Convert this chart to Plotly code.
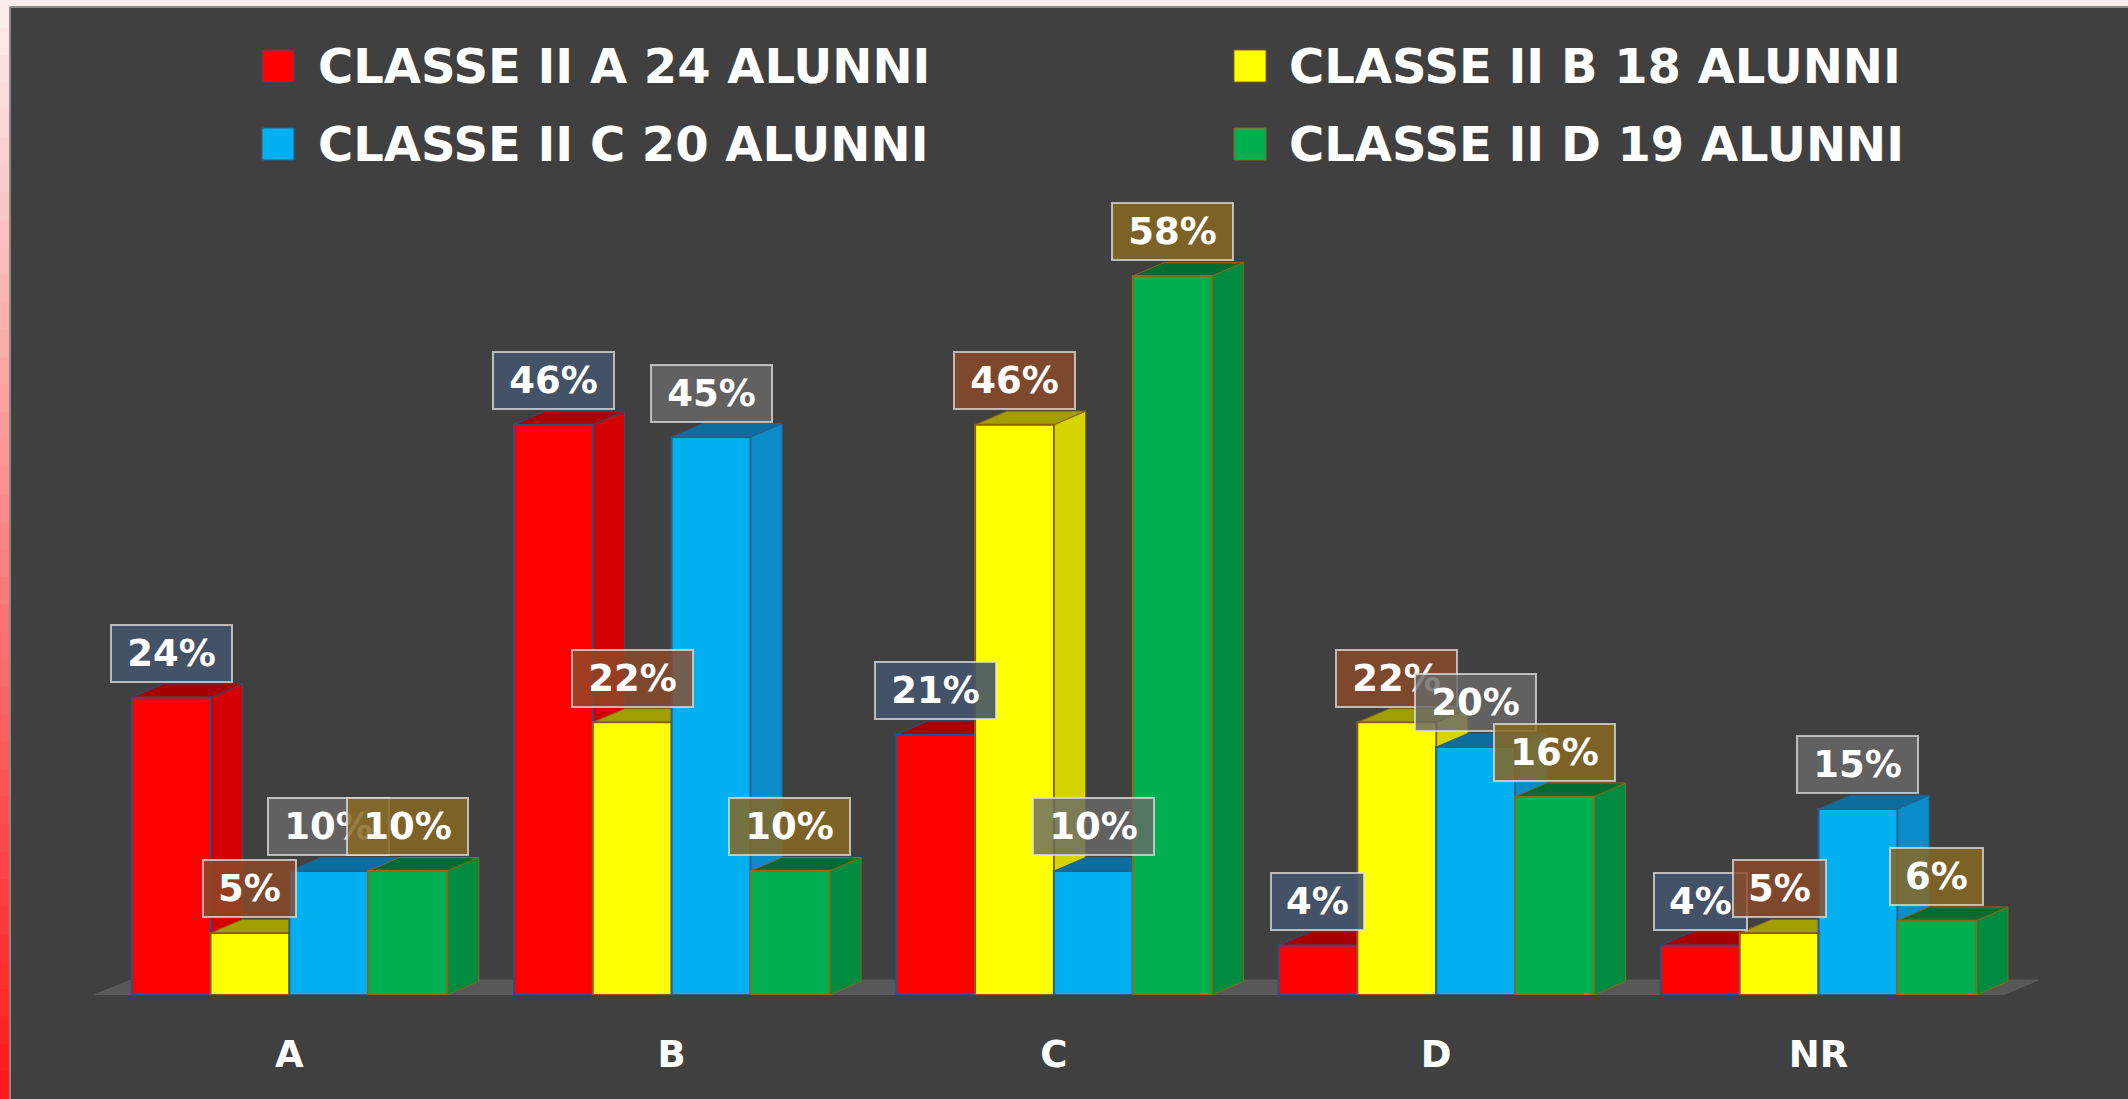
import plotly.graph_objects as go

# ---------------- data ----------------
categories = ["A", "B", "C", "D", "NR"]
series_names = [
    "CLASSE II A 24 ALUNNI",
    "CLASSE II B 18 ALUNNI",
    "CLASSE II C 20 ALUNNI",
    "CLASSE II D 19 ALUNNI",
]
classe_a = [24, 46, 21, 4, 4]
classe_b = [5, 22, 46, 22, 5]
classe_c = [10, 45, 10, 20, 15]
classe_d = [10, 10, 58, 16, 6]
series_values = [classe_a, classe_b, classe_c, classe_d]

# ---------------- style ----------------
front_colors = ["#FF0000", "#FFFF00", "#00B0F0", "#00B050"]
side_colors = ["#D20000", "#D4D400", "#0A8CC8", "#008C40"]
top_colors = ["#A80000", "#A09E00", "#0B6E9E", "#006B2E"]
edge_colors = ["#2F4F7F", "#8B5E14", "#2A5F8A", "#8B6A1A"]
label_fills = ["rgba(68,84,106,0.90)", "rgba(140,75,40,0.82)",
               "rgba(105,105,105,0.82)", "rgba(135,105,35,0.85)"]

W, H = 2128, 1099
ML, MR, MT, MB = 60, 61, 152, 104
PW, PH = W - ML - MR, H - MT - MB
XR = [-0.6, 4.65]
YR = [0, 68]
BARGAP = 0.175
DX, DY = 0.083, 1.1
BG = "#404040"
FONT = "DejaVu Sans"

n_ser = len(series_values)
bw = (1 - BARGAP) / n_ser


def xp(px):
    return (px - ML) / PW


def yp(py):
    return (H - MB - py) / PH


fig = go.Figure()
x_idx = list(range(len(categories)))
for i, vals in enumerate(series_values):
    fig.add_trace(go.Bar(
        x=x_idx, y=vals, name=series_names[i],
        marker=dict(color=front_colors[i], line=dict(color=edge_colors[i], width=2)),
        showlegend=False,
        hovertemplate="%{y}%<extra>" + series_names[i] + "</extra>",
    ))

shapes = []
# background decoration: top pale strip and left gradient strip
shapes.append(dict(type="rect", xref="paper", yref="paper", x0=xp(0), x1=xp(W),
                   y0=yp(0), y1=yp(7), fillcolor="#FCEDED", line_width=0, layer="below"))
nb = 40
c0 = (252, 236, 236)
c1 = (255, 25, 25)
for k in range(nb):
    t = k / (nb - 1)
    col = tuple(int(c0[m] + (c1[m] - c0[m]) * t) for m in range(3))
    y_top = H * k / nb
    y_bot = H * (k + 1) / nb + 1
    shapes.append(dict(type="rect", xref="paper", yref="paper", x0=xp(0), x1=xp(10),
                       y0=yp(y_bot), y1=yp(y_top), fillcolor="rgb(%d,%d,%d)" % col,
                       line_width=0, layer="below"))
shapes.append(dict(type="line", xref="paper", yref="paper", x0=xp(10), x1=xp(10),
                   y0=yp(H), y1=yp(7), line=dict(color="#8A8A8A", width=2), layer="below"))
shapes.append(dict(type="line", xref="paper", yref="paper", x0=xp(10), x1=xp(W),
                   y0=yp(7), y1=yp(7), line=dict(color="#8A8A8A", width=2), layer="below"))

# floor
fx0, fx1 = -0.51, len(categories) - 0.52
shapes.append(dict(type="path", xref="x", yref="y",
                   path=f"M {fx0},0 L {fx0 + 0.095},1.2 L {fx1 + 0.095},1.2 L {fx1},0 Z",
                   fillcolor="#585858", line=dict(color="#5E5E5E", width=1), layer="below"))

# 3D side and top faces, left to right
for j in range(len(categories)):
    for i, vals in enumerate(series_values):
        v = vals[j]
        xc = j + (i - (n_ser - 1) / 2) * bw
        xl, xr = xc - bw / 2, xc + bw / 2
        side = f"M {xr},0 L {xr + DX},{DY} L {xr + DX},{v + DY} L {xr},{v} Z"
        top = f"M {xl},{v} L {xl + DX},{v + DY} L {xr + DX},{v + DY} L {xr},{v} Z"
        shapes.append(dict(type="path", xref="x", yref="y", path=side,
                           fillcolor=side_colors[i], line=dict(color=edge_colors[i], width=1),
                           layer="below"))
        shapes.append(dict(type="path", xref="x", yref="y", path=top,
                           fillcolor=top_colors[i], line=dict(color=edge_colors[i], width=1),
                           layer="below"))

annotations = []
# data labels
for i, vals in enumerate(series_values):
    for j, v in enumerate(vals):
        xc = j + (i - (n_ser - 1) / 2) * bw
        txt = f"{v}%"
        annotations.append(dict(
            x=xc, y=v + DY, xref="x", yref="y", text=txt, showarrow=False,
            xanchor="center", yanchor="bottom", yshift=1,
            font=dict(family=FONT, size=37, color="white", weight="bold"),
            bgcolor=label_fills[i], bordercolor="rgba(225,225,225,0.75)",
            borderwidth=2, borderpad=6, width=len(txt) * 28 + 23, height=43,
        ))

# legend (manual, large swatches)
leg_cols_sq = [262, 1234]
leg_cols_tx = [316, 1287]
leg_rows = [66, 144]
for i, name in enumerate(series_names):
    col = i % 2
    row = i // 2
    cy = leg_rows[row]
    shapes.append(dict(type="rect", xref="paper", yref="paper",
                       x0=xp(leg_cols_sq[col]), x1=xp(leg_cols_sq[col] + 32),
                       y0=yp(cy + 16), y1=yp(cy - 16),
                       fillcolor=front_colors[i], line=dict(color=edge_colors[i], width=1)))
    annotations.append(dict(
        x=xp(leg_cols_tx[col]), y=yp(cy), xref="paper", yref="paper",
        text=name, showarrow=False, xanchor="left", yanchor="middle",
        font=dict(family=FONT, size=48, color="white", weight="bold"),
    ))

fig.update_layout(
    width=W, height=H,
    margin=dict(l=ML, r=MR, t=MT, b=MB, pad=0),
    paper_bgcolor=BG, plot_bgcolor=BG,
    barmode="group", bargap=BARGAP, bargroupgap=0,
    showlegend=False,
    shapes=shapes, annotations=annotations,
    xaxis=dict(range=XR, tickvals=x_idx, ticktext=categories, showgrid=False,
               zeroline=False, showline=False, ticks="", ticklabelstandoff=34,
               tickfont=dict(family=FONT, size=37, color="white", weight="bold"),
               fixedrange=True),
    yaxis=dict(range=YR, visible=False, showgrid=False, zeroline=False, fixedrange=True),
)

fig.write_html("out.html",
               config={"displayModeBar": False},
               post_script="document.body.style.margin='0';document.body.style.padding='0';")
